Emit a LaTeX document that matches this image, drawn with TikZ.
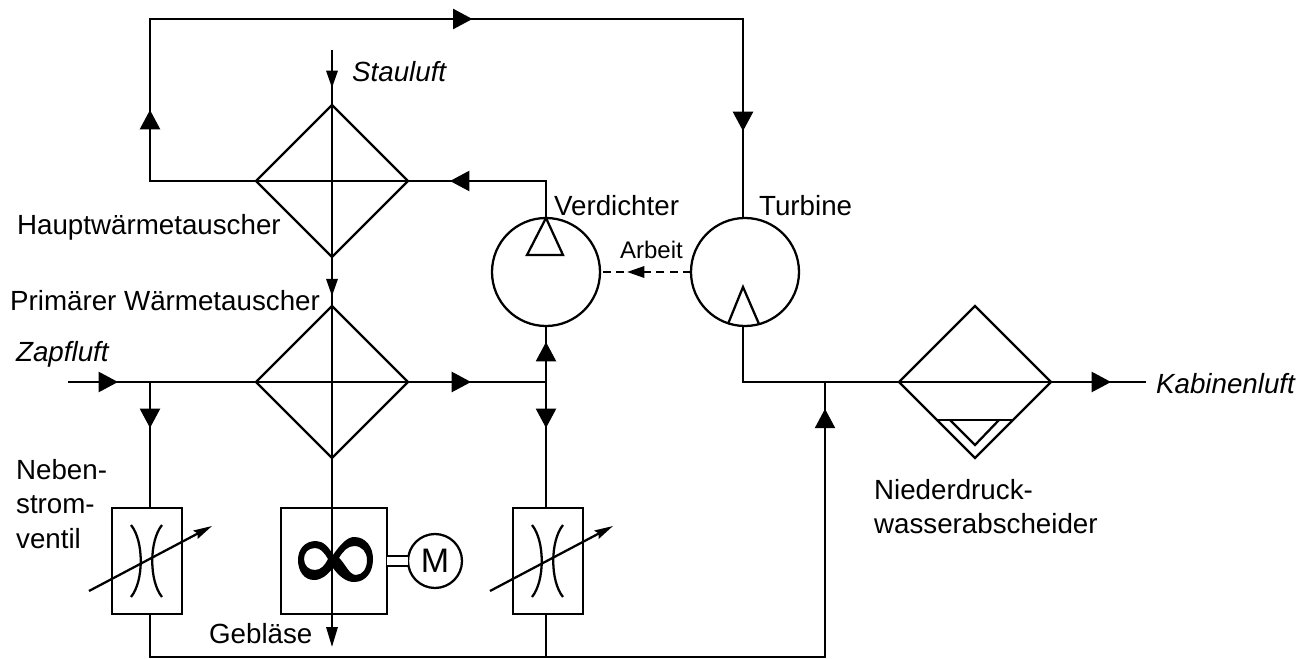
\documentclass[tikz,border=0pt]{standalone}
\usepackage{fontspec}
\setmainfont{Liberation Sans}
\usetikzlibrary{arrows.meta,shapes.geometric,decorations.markings}

\begin{document}
\begin{tikzpicture}[x=0.75pt, y=-0.75pt, line width=1.7pt,
    exchanger/.style={diamond, draw, aspect=1, inner sep=0pt, outer sep=0pt, minimum width=114pt, minimum height=114pt},
    wheel/.style={circle, draw, inner sep=0pt, outer sep=0pt, minimum size=81pt},
    valve/.style={rectangle, draw, inner sep=0pt, outer sep=0pt, minimum width=52.5pt, minimum height=79.5pt},
    label/.style={inner sep=0pt, anchor=base west, font=\fontsize{20.8}{21}\selectfont},
    slanted/.style={label, font=\fontsize{20.8}{21}\selectfont\itshape},
    stacked/.style={inner sep=0pt, anchor=north west, align=left, font=\fontsize{20.8}{26}\selectfont},
    bigtip/.tip={Triangle[length=14.5pt, width=15pt]},
    smalltip/.tip={Triangle[length=13pt, width=8.5pt]},
    flow/.style={postaction={decorate, decoration={markings, mark=at position #1 with {\arrow{bigtip}}}}},
    thinflow/.style={postaction={decorate, decoration={markings, mark=at position #1 with {\arrow{smalltip}}}}}]
    \useasboundingbox (0,0) rectangle (1311,659);

    % Heat exchangers
    \node [exchanger] (main) at (332,181) {};
    \node [exchanger] (primary) at (332,382) {};
    \node [exchanger] (separator) at (975,382) {};

    % Compressor and turbine
    \node [wheel] (compressor) at (546,272) {};
    \node [wheel] (turbine) at (745,272) {};

    % Valves, fan and motor
    \node [valve] (bypass) at (147,561) {};
    \node [valve] (trim) at (548,561) {};
    \node [rectangle, draw, inner sep=0pt, outer sep=0pt, minimum size=79.5pt] (fan) at (334,561) {};
    \node [circle, draw, inner sep=0pt, outer sep=0pt, minimum size=40.5pt, font=\fontsize{25.5}{26}\selectfont] (motor) at (435,561) {M};

    % Free ends and junctions
    \coordinate (ramin) at (332,50);
    \coordinate (fanout) at (332,647);
    \coordinate (bleedin) at (68,382);
    \coordinate (cabinout) at (1146,382);
    \coordinate (bleedtee) at (150,382);
    \coordinate (compresstee) at (546,382);
    \coordinate (mixtee) at (825,382);
    \coordinate (lowleft) at (150,181);
    \coordinate (topleft) at (150,19);
    \coordinate (topright) at (743,19);
    \coordinate (bottomleft) at (150,657);
    \coordinate (bottomright) at (825,657);
    \coordinate (bottomtee) at (546,657);

    % Labels
    \node [slanted] (stauluft) at (351,82) {Stauluft};
    \node [label] (hauptlabel) at (16,235) {Hauptwärmetauscher};
    \node [label] (primaerlabel) at (9,311) {Primärer Wärmetauscher};
    \node [label] (verdichterlabel) at (553,216) {Verdichter};
    \node [label] (turbinelabel) at (758,216) {Turbine};
    \node [label, font=\fontsize{18}{18}\selectfont] (arbeit) at (619,259) {Arbeit};
    \node [slanted] (zapfluft) at (15,362) {Zapfluft};
    \node [slanted] (kabinenluft) at (1155,393) {Kabinenluft};
    \node [stacked] (neben) at (15,458) {Neben-\\strom-\\ventil};
    \node [stacked] (nieder) at (873,478) {Niederdruck-\\wasserabscheider};
    \node [label] (geblaese) at (208,643) {Gebläse};

    % Ram air path
    \draw [thinflow=0.69] (ramin) -- (main.north);
    \draw (main.north) -- (main.south);
    \draw [thinflow=0.8] (main.south) -- (primary.north);
    \draw (primary.north) -- (primary.south) -- (fan.north -| primary.south);
    \draw [-{Triangle[length=15pt, width=8.5pt]}] (fan.north -| primary.south) -- (fanout);

    % Bleed air path
    \draw [flow=0.266] (bleedin) -- (primary.west);
    \draw (primary.west) -- (primary.east);
    \draw [flow=0.457] (primary.east) -- (compresstee);
    \draw [flow=0.365] (bleedtee) -- (bleedtee |- bypass.north);
    \draw [flow=0.714] (compresstee) -- (compressor.south);
    \draw [flow=0.365] (compresstee) -- (compresstee |- trim.north);
    \draw [flow=0.76] (compressor.north) |- (main.east);
    \draw (main.west) -- (main.east);
    \draw [flow=0.167, flow=0.557, flow=0.918] (main.west) -- (lowleft) -- (topleft) -- (topright) -- (topright |- turbine.north);
    \draw (topright |- turbine.south) |- (separator.west);
    \draw (separator.west) -- (separator.east);
    \draw [flow=0.632] (separator.east) -- (cabinout);

    % Bypass return
    \draw [flow=0.973] (bleedtee |- bypass.south) -- (bottomleft) -- (bottomright) -- (mixtee);
    \draw (compresstee |- trim.south) -- (bottomtee);

    % Work transfer
    \draw [dashed, dash pattern=on 6pt off 4pt, thinflow=0.703] (turbine.west) -- (compressor.east);

    % Motor shaft
    \draw [double, double distance=5.8pt] (fan.east) -- (motor.west);

    % Wheel blades
    \draw (compressor.north) -- ++(-19,37) -- ++(36,0) -- cycle;
    \draw (728,324) -- (743,287) -- (759,324);

    % Separator sump
    \draw (938,420) -- (1012,420);
    \draw (950,420) -- (separator.south |- 0,445) -- (999,420);

    % Valve symbols
    \foreach \v in {bypass, trim} {
        \draw [shift={(\v.center)}] (-16,-36) .. controls (-3,-20) and (-3,20) .. (-16,36);
        \draw [shift={(\v.center)}] (15,-36) .. controls (2,-20) and (2,20) .. (15,36);
        \draw [shift={(\v.center)}, -{Stealth[length=14pt, width=7pt, inset=2pt]}] (-58,30) -- (65,-35);
    }

    % Fan rotor
    \fill [even odd rule] (333,555) .. controls (340,545) and (347,537) .. (354,537)
        .. controls (366,537) and (373,547) .. (373,559)
        .. controls (373,572) and (366,582) .. (354,582)
        .. controls (346,582) and (339,576) .. (333,568)
        .. controls (327,575) and (322,580) .. (314,580)
        .. controls (304,580) and (298,571) .. (298,560)
        .. controls (298,549) and (305,541) .. (316,541)
        .. controls (323,541) and (329,547) .. (333,555) -- cycle
        (328,559) .. controls (324,552) and (320,548) .. (315,548)
        .. controls (308,548) and (304,553) .. (304,559)
        .. controls (304,566) and (309,570) .. (315,570)
        .. controls (321,570) and (325,565) .. (328,559) -- cycle
        (339,558) .. controls (345,563) and (349,575) .. (356,575)
        .. controls (363,575) and (367,568) .. (367,560)
        .. controls (367,552) and (362,546) .. (354,546)
        .. controls (348,546) and (343,551) .. (339,558) -- cycle;

\end{tikzpicture}
\end{document}
